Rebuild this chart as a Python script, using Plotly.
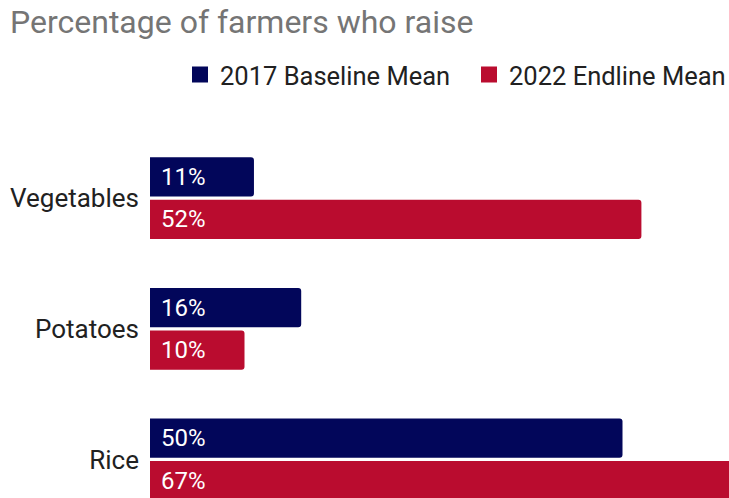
import plotly.graph_objects as go

# Share of farmers raising each crop, baseline vs endline
categories = ["Vegetables", "Potatoes", "Rice"]
baseline_2017 = [11, 16, 50]
endline_2022 = [52, 10, 67]
series_names = ["2017 Baseline Mean", "2022 Endline Mean"]

NAVY = "#02065a"
RED = "#ba0c2f"
FONT = "Roboto, Arial, sans-serif"

BAR_W = 0.3
GAP = 0.0125
y_pos = list(range(len(categories)))

fig = go.Figure()

series = [(series_names[0], baseline_2017, NAVY, -(BAR_W + GAP), "legend"),
          (series_names[1], endline_2022, RED, GAP, "legend2")]

for name, vals, color, off, leg in series:
    fig.add_trace(go.Bar(
        x=vals, y=y_pos, orientation="h", name=name,
        marker=dict(color=color, line=dict(width=0)),
        width=BAR_W, offset=off, showlegend=False, hoverinfo="x+y",
    ))
    # value labels sitting at the start of each bar
    for i, v in enumerate(vals):
        fig.add_annotation(
            x=0, y=i + off + BAR_W / 2, xref="x", yref="y",
            text=f"{v}%", showarrow=False, xanchor="left", yanchor="middle",
            xshift=9, font=dict(family=FONT, size=24, color="white"),
        )
    # legend entry with a larger square swatch
    fig.add_trace(go.Scatter(
        x=[None], y=[None], mode="markers", name=name,
        marker=dict(symbol="square", size=16, color=color),
        showlegend=True, legend=leg,
    ))

legend_common = dict(
    orientation="h", xref="container", yref="container",
    xanchor="left", y=1 - 75 / 498, yanchor="middle",
    font=dict(family=FONT, size=25.5, color="#212121"),
    itemsizing="trace", bgcolor="rgba(0,0,0,0)",
)

fig.update_layout(
    width=729, height=498,
    margin=dict(l=150, r=0, t=120, b=0),
    paper_bgcolor="white", plot_bgcolor="white",
    barmode="overlay", barcornerradius=3,
    font=dict(family=FONT, color="#212121"),
    title=dict(
        text="Percentage of farmers who raise",
        xref="container", yref="container",
        x=10 / 729, xanchor="left", y=1 - 22 / 498, yanchor="middle",
        font=dict(family=FONT, size=32, color="#757575"),
    ),
    legend=dict(x=180 / 729, **legend_common),
    legend2=dict(x=469 / 729, **legend_common),
    xaxis=dict(range=[0, 61.27], visible=False, fixedrange=True),
    yaxis=dict(
        range=[2.295, -0.598], tickmode="array", tickvals=y_pos,
        ticktext=categories, showgrid=False, zeroline=False, showline=False,
        ticks="", ticklabelstandoff=10,
        tickfont=dict(family=FONT, size=26, color="#212121"),
    ),
)

fig.write_html("out.html")
